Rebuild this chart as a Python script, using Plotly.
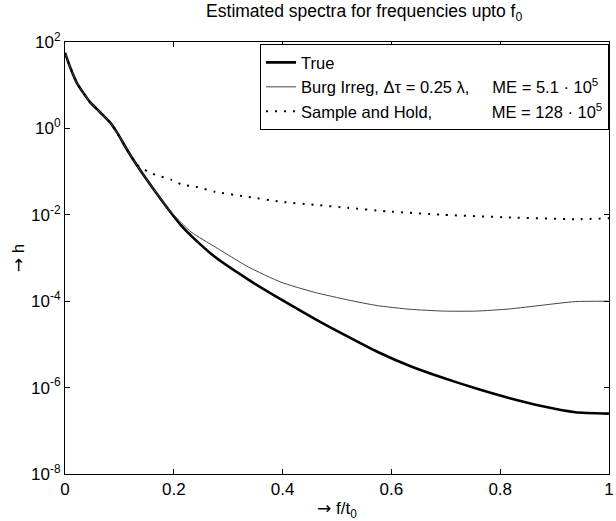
import plotly.graph_objects as go

# frequency grid (f/f0)
f_true = [0.0, 0.01, 0.022, 0.035, 0.046, 0.064, 0.082, 0.095, 0.113, 0.131, 0.155, 0.191,
          0.215, 0.233, 0.276, 0.337, 0.397, 0.459, 0.52, 0.574, 0.634, 0.696,
          0.756, 0.816, 0.878, 0.938, 1.0]
h_true = [5.6e1, 2.5e1, 1.12e1, 6.3e0, 4.07e0, 2.4e0, 1.41e0, 8.3e-1, 3.39e-1, 1.48e-1, 5.37e-2, 1.29e-2,
          5.37e-3, 3.16e-3, 1.05e-3, 3.16e-4, 1.1e-4, 3.9e-5, 1.51e-5, 6.76e-6, 3.16e-6, 1.66e-6,
          9.5e-7, 5.75e-7, 3.7e-7, 2.7e-7, 2.5e-7]

f_burg = [0.0, 0.01, 0.022, 0.035, 0.046, 0.064, 0.082, 0.095, 0.113, 0.131, 0.155, 0.191,
          0.215, 0.233, 0.276, 0.337, 0.397, 0.459, 0.52, 0.574, 0.634, 0.696,
          0.756, 0.816, 0.878, 0.938, 1.0]
h_burg = [5.6e1, 2.5e1, 1.12e1, 6.3e0, 4.07e0, 2.4e0, 1.41e0, 8.3e-1, 3.39e-1, 1.48e-1, 5.37e-2, 1.32e-2,
          6.3e-3, 3.9e-3, 1.8e-3, 6.2e-4, 2.75e-4, 1.6e-4, 1.07e-4, 7.9e-5, 6.5e-5, 5.9e-5,
          5.9e-5, 6.6e-5, 8.1e-5, 9.8e-5, 1.0e-4]

f_sh = [0.0, 0.01, 0.022, 0.035, 0.046, 0.064, 0.082, 0.095, 0.113, 0.131, 0.142, 0.155,
        0.168, 0.195, 0.215, 0.24, 0.276, 0.337, 0.397, 0.459, 0.52, 0.592,
        0.695, 0.816, 0.938, 1.0]
h_sh = [5.6e1, 2.5e1, 1.12e1, 6.3e0, 4.07e0, 2.4e0, 1.41e0, 8.3e-1, 3.39e-1, 1.48e-1, 1.2e-1, 9.5e-2,
        8.3e-2, 6.5e-2, 5.0e-2, 4.5e-2, 3.4e-2, 2.6e-2, 2.0e-2, 1.7e-2, 1.45e-2, 1.2e-2,
        1.0e-2, 8.7e-3, 7.9e-3, 8.3e-3]

y_tickvals = [1e2, 1e0, 1e-2, 1e-4, 1e-6, 1e-8]
y_ticktext = ["10<sup>2</sup>", "10<sup>0</sup>", "10<sup>-2</sup>",
              "10<sup>-4</sup>", "10<sup>-6</sup>", "10<sup>-8</sup>"]
x_tickvals = [0, 0.2, 0.4, 0.6, 0.8, 1]
x_ticktext = ["0", "0.2", "0.4", "0.6", "0.8", "1"]

NB = "\u00a0"
names = ["True",
         "Burg Irreg, \u0394\u03c4 = 0.25 \u03bb," + NB * 5 + "ME = 5.1 \u00b7 10<sup>5</sup>",
         "Sample and Hold," + NB * 13 + "ME = 128 \u00b7 10<sup>5</sup>"]

ARROW = "<span style='font-family:DejaVu Sans'>\u2192</span>"

fig = go.Figure()
fig.add_trace(go.Scatter(x=f_true, y=h_true, mode="lines", name=names[0],
                         line=dict(color="black", width=2.6, shape="spline", smoothing=0.5)))
fig.add_trace(go.Scatter(x=f_burg, y=h_burg, mode="lines", name=names[1],
                         line=dict(color="#444444", width=1, shape="spline", smoothing=0.5)))
fig.add_trace(go.Scatter(x=f_sh, y=h_sh, mode="lines", name=names[2],
                         line=dict(color="black", width=2, dash="2px,7px", shape="spline", smoothing=0.5)))

font = "Liberation Sans, Arial, sans-serif"
fig.update_layout(
    width=616, height=521,
    margin=dict(l=65, r=2, t=42, b=47),
    paper_bgcolor="white", plot_bgcolor="white",
    font=dict(family=font, size=17, color="black"),
    title=dict(text="Estimated spectra for frequencies upto f<sub>0</sub>",
               xref="paper", x=0.55, xanchor="center", y=0.99, yanchor="top",
               font=dict(size=17.5, family=font)),
    showlegend=True,
    legend=dict(x=1.0, xanchor="right", y=0.995, yanchor="top",
                bordercolor="black", borderwidth=1, bgcolor="white",
                font=dict(size=16.5, family=font), tracegroupgap=0),
    xaxis=dict(range=[0, 1], tickvals=x_tickvals, ticktext=x_ticktext,
               ticks="inside", ticklen=5, tickcolor="black",
               showline=True, linecolor="black", linewidth=1, mirror="ticks",
               showgrid=False, zeroline=False, tickfont=dict(size=17),
               ticklabeloverflow="allow",
               title=dict(text=ARROW + " f/t<sub>0</sub>", standoff=4,
                          font=dict(size=17, family=font))),
    yaxis=dict(type="log", range=[-8, 2], tickvals=y_tickvals, ticktext=y_ticktext,
               ticks="inside", ticklen=5, tickcolor="black",
               showline=True, linecolor="black", linewidth=1, mirror="ticks",
               showgrid=False, zeroline=False, tickfont=dict(size=17),
               title=dict(text=ARROW + " h", standoff=2,
                          font=dict(size=17, family=font))),
)

fig.write_html("out.html")
